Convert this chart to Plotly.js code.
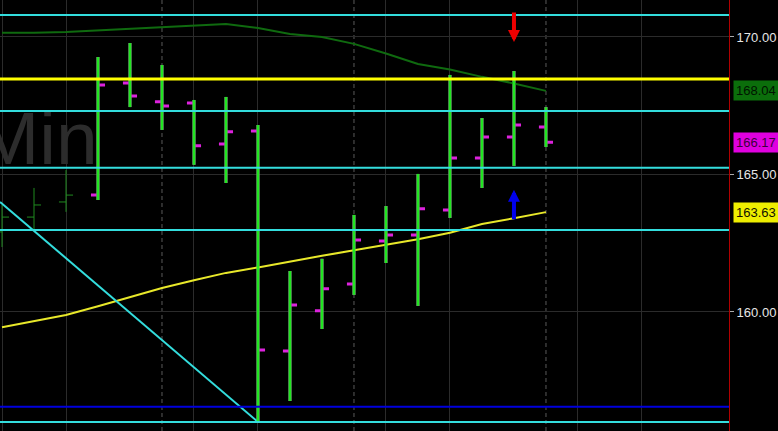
<!DOCTYPE html>
<html><head><meta charset="utf-8">
<script src="https://cdn.plot.ly/plotly-3.0.1.min.js"></script>
<style>html,body{margin:0;padding:0;background:#000;}#chart{width:778px;height:431px;}</style>
</head><body><div id="chart"></div>
<script>
// ---- data ----
const barIdx   = [3,4,5,6,7,8,9,10,11,12,13,14,15,16,17];
const barOpen  = [164.25,168.33,167.64,167.60,166.11,166.58,158.58,160.04,161.02,162.58,162.80,163.71,165.60,166.36,166.73];
const barHigh  = [169.27,169.78,168.98,167.71,167.82,166.80,161.49,161.93,163.53,163.85,165.02,168.62,167.05,168.76,167.45];
const barLow   = [164.07,167.45,166.62,165.35,164.69,156.00,156.76,159.38,160.62,161.78,160.22,163.42,164.51,165.31,166.00];
const barClose = [168.25,167.85,167.49,166.04,166.55,158.62,160.25,160.84,162.62,162.80,163.75,165.60,166.36,166.80,166.17];

const preIdx   = [0,1,2];
const preOpen  = [162.91,163.45,164.00];
const preHigh  = [163.89,164.51,165.16];
const preLow   = [162.36,162.98,163.64];
const preClose = [163.45,163.89,164.25];

const maIdx    = [0,1,2,3,4,5,6,7,8,9,10,11,12,13,14,15,16,17];
const maGreen  = [170.15,170.15,170.18,170.24,170.29,170.36,170.42,170.47,170.33,170.11,170.00,169.75,169.40,169.02,168.82,168.55,168.31,168.04];
const maYellow = [159.44,159.67,159.89,160.21,160.53,160.87,161.15,161.42,161.62,161.84,162.04,162.24,162.44,162.64,162.88,163.20,163.41,163.63];

const trendX = [-0.06, 8];
const trendY = [164.00, 156.00];

const cyanLevels  = [170.80, 167.31, 165.24, 162.98, 156.00];
const yellowLevel = 168.47;
const blueLevel   = 156.55;

const sellSignal = {idx: 16, price: 169.82};
const buySignal  = {idx: 16, price: 164.44};

const yTicks = [160, 165, 170];
const gridSolid  = [0, 2, 6, 8, 12, 14, 18, 20];
const gridDashed = [5, 11, 17];
const watermark = 'Min';

// ---- traces ----
const stemX = [], stemY = [];
barIdx.forEach((x, k) => { stemX.push(x, x, null); stemY.push(barLow[k], barHigh[k], null); });

const lastClose = barClose[barClose.length - 1];
const lastGreen = maGreen[maGreen.length - 1];
const lastYellow = maYellow[maYellow.length - 1];
const tagVals = [lastGreen, lastClose, lastYellow];
const tagBg = ['#0b6e0b', '#e000e0', '#eeee00'];
const tagFg = ['#001400', '#3c003c', '#111100'];

const traces = [
  {type:'scatter', mode:'text', x:[2.99], y:[166.08], text:[watermark], textposition:'middle left',
   textfont:{family:'Liberation Sans, Arial, sans-serif', size:75, color:'#2c2c2c'}, hoverinfo:'skip', showlegend:false},
  {type:'scatter', mode:'lines', x:maIdx, y:maGreen, line:{color:'#0f6a0f', width:2}, hoverinfo:'skip', showlegend:false},
  {type:'scatter', mode:'lines', x:maIdx, y:maYellow, line:{color:'#e8e82a', width:2}, hoverinfo:'skip', showlegend:false},
  {type:'scatter', mode:'lines', x:trendX, y:trendY, line:{color:'#33dddd', width:2}, hoverinfo:'skip', showlegend:false},
  {type:'ohlc', x:preIdx, open:preOpen, high:preHigh, low:preLow, close:preClose, tickwidth:0.22,
   increasing:{line:{color:'#1f8a1f', width:1}}, decreasing:{line:{color:'#1f8a1f', width:1}}, hoverinfo:'skip', showlegend:false},
  {type:'ohlc', x:barIdx, open:barOpen, high:barHigh, low:barLow, close:barClose, tickwidth:0.22,
   increasing:{line:{color:'#dd22dd', width:3}}, decreasing:{line:{color:'#dd22dd', width:3}}, hoverinfo:'skip', showlegend:false},
  {type:'scatter', mode:'lines', x:stemX, y:stemY, line:{color:'#22e622', width:3}, hoverinfo:'skip', showlegend:false, connectgaps:false},
  {type:'scatter', mode:'markers', x:tagVals.map(() => 22.84), y:tagVals, cliponaxis:false,
   marker:{symbol:'triangle-left', size:15, color:tagBg, line:{width:0}}, hoverinfo:'skip', showlegend:false}
];

// ---- layout ----
const shapes = [];
gridDashed.forEach(x => shapes.push({type:'line', xref:'x', yref:'paper', x0:x, x1:x, y0:0, y1:1, layer:'below',
  line:{color:'#5a5a5a', width:1, dash:'4px,3px'}}));
cyanLevels.forEach(v => shapes.push({type:'line', xref:'paper', yref:'y', x0:0, x1:1, y0:v, y1:v, layer:'above',
  line:{color:'#33dddd', width:2}}));
shapes.push({type:'line', xref:'paper', yref:'y', x0:0, x1:1, y0:yellowLevel, y1:yellowLevel, layer:'above', line:{color:'#ffff00', width:3}});
shapes.push({type:'line', xref:'paper', yref:'y', x0:0, x1:1, y0:blueLevel, y1:blueLevel, layer:'above', line:{color:'#0000dd', width:2}});

const annotations = [
  {x:sellSignal.idx, y:sellSignal.price, xref:'x', yref:'y', text:'', showarrow:true, ax:0, ay:-31,
   arrowcolor:'#ee0000', arrowwidth:4, arrowhead:2, arrowsize:0.6},
  {x:buySignal.idx, y:buySignal.price, xref:'x', yref:'y', text:'', showarrow:true, ax:0, ay:31,
   arrowcolor:'#0000ee', arrowwidth:4, arrowhead:2, arrowsize:0.6}
];
tagVals.forEach((v, k) => annotations.push({xref:'paper', yref:'y', x:1.0055, y:v, xanchor:'left', yanchor:'middle',
  text:v.toFixed(2), showarrow:false, bgcolor:tagBg[k], borderpad:2, width:41, align:'left',
  font:{family:'Liberation Sans, Arial, sans-serif', size:13, color:tagFg[k]}}));

const layout = {
  width:778, height:431,
  margin:{l:0, r:49, t:0, b:0, pad:0},
  paper_bgcolor:'#000000', plot_bgcolor:'#000000',
  showlegend:false,
  xaxis:{range:[-0.0625, 22.72], tickvals:gridSolid, showticklabels:false, showgrid:true, gridcolor:'#2b2b2b', gridwidth:1,
         zeroline:false, showline:false, ticks:'', rangeslider:{visible:false}, fixedrange:true},
  yaxis:{range:[155.67, 171.345], side:'right', tickvals:yTicks, ticktext:yTicks.map(v => v.toFixed(2)),
         tickfont:{family:'Liberation Sans, Arial, sans-serif', size:13, color:'#e6e6e6'},
         showgrid:true, gridcolor:'#2b2b2b', zeroline:false, showline:true, linecolor:'#b00000', linewidth:1,
         ticks:'outside', ticklen:4, tickcolor:'#aaaaaa', fixedrange:true},
  shapes:shapes, annotations:annotations
};

Plotly.newPlot('chart', traces, layout, {staticPlot:true, displayModeBar:false});
</script>
</body></html>
